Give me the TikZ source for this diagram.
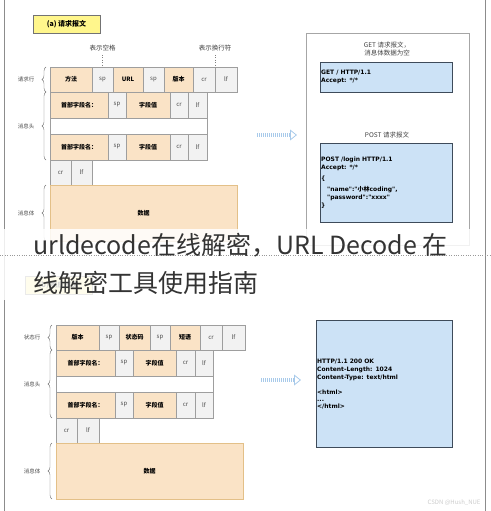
\documentclass[tikz,border=0pt]{standalone}
\usepackage{fontspec}
\setmainfont{Noto Sans CJK SC}
\newfontfamily\codefont{DejaVu Sans}
\usepackage{xcolor}
\usepackage{tikz}
\usetikzlibrary{arrows.meta,positioning,decorations.pathreplacing}

\definecolor{peach}{HTML}{FAE3C6}
\definecolor{ctrlfill}{HTML}{F2F2F2}
\definecolor{cellline}{HTML}{9E9E9E}
\definecolor{databorder}{HTML}{E3C088}
\definecolor{sky}{HTML}{CCE2F6}
\definecolor{codeline}{HTML}{3E4B5A}
\definecolor{tagyellow}{HTML}{FFF68C}
\definecolor{flowblue}{HTML}{A8CAEA}

\begin{document}
\begin{tikzpicture}[
  x=1pt, y=-1pt,
  font=\fontsize{6}{7}\selectfont,
  cell/.style={draw=cellline, inner sep=0pt, outer sep=0pt, minimum height=25pt, anchor=north west},
  field/.style={cell, fill=peach, font=\fontsize{6}{7}\selectfont\bfseries},
  ctrl/.style={cell, fill=ctrlfill, text=black!70},
  gap/.style={cell, fill=white, minimum height=16pt},
  brace/.style={decorate, decoration={brace, amplitude=4pt}, draw=black!55},
  side/.style={left=8pt, text=black!70, font=\fontsize{5.5}{6}\selectfont},
  hint/.style={text=black!75, align=center, font=\fontsize{6.5}{8}\selectfont},
  tag/.style={draw=black!55, fill=tagyellow, inner sep=0pt, minimum width=67pt, minimum height=18pt, font=\fontsize{7}{8}\selectfont\bfseries},
  codebox/.style={draw=codeline, fill=sky, inner sep=0pt, inner xsep=1pt, anchor=north west, align=left, font=\codefont\fontsize{6}{8}\selectfont\bfseries},
  flow/.style={line width=4pt, draw=flowblue, dash pattern=on 1pt off 1pt, -{Triangle[open, length=7pt 0, width=11pt 0, line width=0.8pt]}}
]
  \useasboundingbox (0,0) rectangle (490,511);
  \draw[black!45] (4,0) -- (4,511);
  \draw[black!45] (485,0) -- (485,511);

  % request message
  \node[tag] (reqtag) at (66.5,24) {(a) 请求报文};

  \node[field, minimum width=42pt] (rqmethod) at (50,67) {方法};
  \node[ctrl, minimum width=21pt, right=0pt of rqmethod] (rqsp1) {sp};
  \node[field, minimum width=30pt, right=0pt of rqsp1] (rqurl) {URL};
  \node[ctrl, minimum width=21pt, right=0pt of rqurl] (rqsp2) {sp};
  \node[field, minimum width=29pt, right=0pt of rqsp2] (rqver) {版本};
  \node[ctrl, minimum width=22pt, right=0pt of rqver] (rqcr) {cr};
  \node[ctrl, minimum width=22pt, right=0pt of rqcr] (rqlf) {lf};

  \node[field, minimum width=58pt, minimum height=26pt] (rqname1) at (rqmethod.south west) {首部字段名：};
  \node[ctrl, minimum width=18pt, minimum height=26pt, right=0pt of rqname1] (rqsp3) {sp};
  \node[field, minimum width=44pt, minimum height=26pt, right=0pt of rqsp3] (rqvalue1) {字段值};
  \node[ctrl, minimum width=18pt, minimum height=26pt, right=0pt of rqvalue1] (rqcr1) {cr};
  \node[ctrl, minimum width=19pt, minimum height=26pt, right=0pt of rqcr1] (rqlf1) {lf};
  \node[gap, minimum width=157pt] (rqgap) at (rqname1.south west) {};
  \node[field, minimum width=58pt, minimum height=26pt] (rqname2) at (rqgap.south west) {首部字段名：};
  \node[ctrl, minimum width=18pt, minimum height=26pt, right=0pt of rqname2] (rqsp4) {sp};
  \node[field, minimum width=44pt, minimum height=26pt, right=0pt of rqsp4] (rqvalue2) {字段值};
  \node[ctrl, minimum width=18pt, minimum height=26pt, right=0pt of rqvalue2] (rqcr2) {cr};
  \node[ctrl, minimum width=19pt, minimum height=26pt, right=0pt of rqcr2] (rqlf2) {lf};

  \node[ctrl, minimum width=21pt] (rqcr3) at (rqname2.south west) {cr};
  \node[ctrl, minimum width=21pt, right=0pt of rqcr3] (rqlf3) {lf};
  \node[field, draw=databorder, minimum width=187pt, minimum height=56pt] (rqdata) at (rqcr3.south west) {数据};

  \node[hint, above=12pt of rqsp1] (spnote) {表示空格};
  \draw[dotted, black!50] (spnote) -- (rqsp1);
  \node[hint, above=12pt of rqcr.north east] (crlfnote) {表示换行符};
  \draw[dotted, black!50] (crlfnote) -- (rqcr.north east);

  \draw[brace] ([xshift=-4pt]rqmethod.south west) -- node[side] (rqlinelbl) {请求行} ([xshift=-4pt]rqmethod.north west);
  \draw[brace] ([xshift=-4pt]rqname2.south west) -- node[side] (rqheadlbl) {消息头} ([xshift=-4pt]rqname1.north west);
  \draw[brace] ([xshift=-4pt]rqdata.south west) -- node[side] (rqbodylbl) {消息体} ([xshift=-4pt]rqdata.north west);

  \node[draw=black!35, inner sep=0pt, minimum width=163pt, minimum height=212pt, anchor=north west] (reqsamples) at (306,33) {};
  \node[hint] (gettitle) at (387,49) {GET 请求报文，\\消息体数据为空};
  \node[codebox, text width=130pt, minimum height=30pt] (getbox) at (320,62) {GET / HTTP/1.1\\Accept: */*};
  \node[hint] (posttitle) at (387,135) {POST 请求报文};
  \node[codebox, text width=130pt, minimum height=79pt] (postbox) at (320,143)
    {POST /login HTTP/1.1\\Accept: */*\\[3pt]\{\\[3pt]\quad "name":"{\rmfamily 小林}coding",\\\quad "password":"xxxx"\\\}};

  \coordinate (reqflowstart) at (257,135);
  \coordinate (reqflowend) at (297,135);
  \draw[flow] (reqflowstart) -- (reqflowend);

  % response message
  \node[tag] (resptag) at (58.5,285.5) {(b) 响应报文};

  \node[field, minimum width=43pt] (rsver) at (56,325) {版本};
  \node[ctrl, minimum width=20pt, right=0pt of rsver] (rssp1) {sp};
  \node[field, minimum width=31pt, right=0pt of rssp1] (rscode) {状态码};
  \node[ctrl, minimum width=20pt, right=0pt of rscode] (rssp2) {sp};
  \node[field, minimum width=30pt, right=0pt of rssp2] (rsphrase) {短语};
  \node[ctrl, minimum width=22pt, right=0pt of rsphrase] (rscr) {cr};
  \node[ctrl, minimum width=23pt, right=0pt of rscr] (rslf) {lf};

  \node[field, minimum width=59pt, minimum height=26pt] (rsname1) at (rsver.south west) {首部字段名：};
  \node[ctrl, minimum width=18pt, minimum height=26pt, right=0pt of rsname1] (rssp3) {sp};
  \node[field, minimum width=43pt, minimum height=26pt, right=0pt of rssp3] (rsvalue1) {字段值};
  \node[ctrl, minimum width=19pt, minimum height=26pt, right=0pt of rsvalue1] (rscr1) {cr};
  \node[ctrl, minimum width=18pt, minimum height=26pt, right=0pt of rscr1] (rslf1) {lf};
  \node[gap, minimum width=157pt] (rsgap) at (rsname1.south west) {};
  \node[field, minimum width=59pt, minimum height=26pt] (rsname2) at (rsgap.south west) {首部字段名：};
  \node[ctrl, minimum width=18pt, minimum height=26pt, right=0pt of rsname2] (rssp4) {sp};
  \node[field, minimum width=43pt, minimum height=26pt, right=0pt of rssp4] (rsvalue2) {字段值};
  \node[ctrl, minimum width=19pt, minimum height=26pt, right=0pt of rsvalue2] (rscr2) {cr};
  \node[ctrl, minimum width=18pt, minimum height=26pt, right=0pt of rscr2] (rslf2) {lf};

  \node[ctrl, minimum width=21pt] (rscr3) at (rsname2.south west) {cr};
  \node[ctrl, minimum width=22pt, right=0pt of rscr3] (rslf3) {lf};
  \node[field, draw=databorder, minimum width=187pt, minimum height=56pt] (rsdata) at (rscr3.south west) {数据};

  \draw[brace] ([xshift=-4pt]rsver.south west) -- node[side] (rslinelbl) {状态行} ([xshift=-4pt]rsver.north west);
  \draw[brace] ([xshift=-4pt]rsname2.south west) -- node[side] (rsheadlbl) {消息头} ([xshift=-4pt]rsname1.north west);
  \draw[brace] ([xshift=-4pt]rsdata.south west) -- node[side] (rsbodylbl) {消息体} ([xshift=-4pt]rsdata.north west);

  \node[codebox, text width=134pt, minimum height=127pt] (respbox) at (316,320)
    {HTTP/1.1 200 OK\\Content-Length: 1024\\Content-Type: text/html\\[7pt]<html>\\[-1pt]...\\[-1pt]</html>};

  \coordinate (respflowstart) at (261,380);
  \coordinate (respflowend) at (301,380);
  \draw[flow] (respflowstart) -- (respflowend);

  \node[text=black!20, font=\fontsize{6}{7}\selectfont, anchor=east] (mark) at (484,503) {CSDN @Hush\_NUE};

  % caption overlay
  \fill[white, opacity=0.85] (4,229) rectangle (485,300);
  \draw[black!40, dotted] (0,255) -- (490,255);
  \node[anchor=base west, inner sep=0pt, text=black!80, font=\fontsize{25}{30}\selectfont] (caption1) at (33,254) {urldecode在线解密，URL Decode 在};
  \node[anchor=base west, inner sep=0pt, text=black!80, font=\fontsize{25}{30}\selectfont] (caption2) at (33,292) {线解密工具使用指南};
\end{tikzpicture}
\end{document}
